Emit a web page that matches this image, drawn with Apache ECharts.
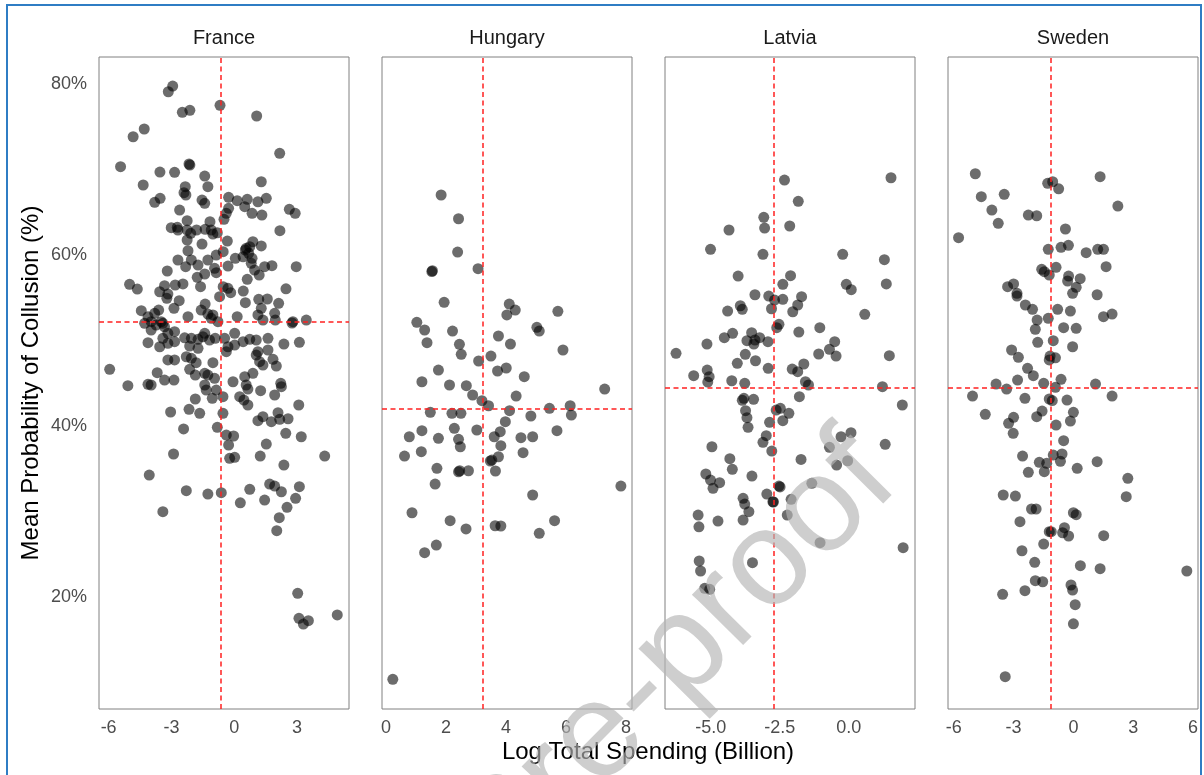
<!DOCTYPE html>
<html>
<head>
<meta charset="utf-8">
<script src="https://cdn.jsdelivr.net/npm/echarts@6/dist/echarts.min.js"></script>
<style>
html,body{margin:0;padding:0;background:#fff;}
#chart{width:1204px;height:775px;}
</style>
</head>
<body>
<div id="chart"></div>
<script>
// ---- DATA ----
const countries = ['France', 'Hungary', 'Latvia', 'Sweden'];

// [log total spending, mean probability of collusion (%)]
const france = [[-2.94,79.8],[-3.15,79.13],[-2.48,76.72],[-2.12,76.96],[-0.68,77.54],[1.07,76.29],[-4.83,73.86],[-4.30,74.77],
[2.17,71.92],[-5.43,70.35],[-3.55,69.73],[-2.85,69.70],[-2.12,70.55],[-2.16,70.67],[-1.41,69.26],[-4.35,68.21],[1.29,68.59],[-2.34,68.01],[-2.40,67.31],[-2.31,67.04],[-1.26,68.01],[-3.80,66.18],[-3.54,66.65],[-1.54,66.45],[-1.41,66.06],[-0.27,66.77],[0.14,66.37],[0.62,66.53],[1.13,66.25],[1.53,66.65],[-2.61,65.28],[2.63,65.36],[2.91,64.89],[0.50,65.67],[0.85,64.89],[1.32,64.69],[-0.27,65.48],[-0.38,64.89],[-0.49,64.19],[-2.25,64.03],[-1.16,63.91],[2.18,62.86],[-3.01,63.21],[-2.72,63.25],[-2.69,62.94],[-2.25,62.94],[-1.80,62.94],[-1.39,63.02],[-1.02,62.47],[-0.81,62.62],[-1.10,62.94],[-2.25,61.77],[-1.54,61.30],[-0.33,61.65],[-2.08,62.55],[0.89,61.57],[0.57,60.80],[1.29,61.07],[-2.21,60.51],[-0.53,60.40],[-0.86,60.01],[0.53,60.60],[0.69,60.21],[0.85,59.62],[0.74,60.98],[-2.69,59.43],[-2.05,59.43],[-1.73,58.84],[-2.32,58.64],[-1.26,59.43],[-0.94,58.45],[-0.86,57.94],[-0.30,58.72],[0.05,59.62],[0.42,59.81],[0.81,59.04],[0.97,58.25],[1.19,57.67],[1.45,58.64],[1.80,58.76],[2.96,58.64],[-3.20,58.14],[-1.41,57.79],[-1.77,57.40],[-5.00,56.58],[-4.63,56.03],[-3.33,56.42],[-2.82,56.50],[-2.45,56.62],[-3.56,55.71],[-3.17,55.44],[-3.22,54.94],[-1.61,56.30],[-0.53,56.30],[-0.30,56.11],[-0.17,55.60],[-0.70,55.13],[0.62,57.17],[0.43,55.79],[2.47,56.06],[-2.63,54.66],[-2.88,53.77],[-1.39,54.27],[-1.58,53.57],[0.53,54.43],[1.17,54.82],[1.58,54.86],[1.29,53.77],[2.12,54.35],[-4.44,53.49],[-4.12,52.79],[-3.80,53.18],[-3.61,53.57],[-2.21,52.79],[-1.26,53.10],[-1.02,52.99],[-0.78,52.20],[-1.10,52.60],[0.14,52.79],[1.13,52.99],[1.37,52.40],[1.93,53.18],[1.96,52.40],[2.80,52.20],[2.76,52.05],[3.44,52.40],[-3.97,52.20],[-3.49,52.20],[-3.33,51.61],
[-4.28,52.01],[-3.73,51.81],[-3.41,52.01],[-3.97,51.23],[-3.17,50.84],[-2.85,51.03],[-4.12,49.74],[-3.56,49.27],[-3.41,50.26],[-3.17,49.67],[-2.85,49.86],[-2.37,50.32],[-2.05,50.26],[-2.13,49.35],[-1.73,49.09],[-1.73,50.14],[-1.50,50.44],[-1.41,50.84],[-1.18,50.06],[-0.91,50.26],[-0.46,50.26],[-0.30,49.27],[-0.38,48.69],[0.02,50.84],[0.02,49.47],[0.42,49.86],[0.74,50.14],[1.05,50.06],[1.61,50.26],[1.61,48.89],[1.13,48.69],[1.05,48.30],[1.21,47.52],[1.37,47.13],[1.85,47.80],[2.01,47.01],[2.37,49.59],[3.11,49.79],[-3.17,47.72],[-2.85,47.72],[-2.29,48.10],[-2.05,47.91],[-1.82,47.40],[-1.02,47.40],[-5.95,46.63],[-3.68,46.23],[-3.33,45.37],[-2.88,45.37],[-2.13,46.63],[-1.86,45.96],[-1.41,46.16],[-1.26,45.96],[-0.94,45.57],[-5.08,44.71],[-4.12,44.87],[-3.97,44.79],[-1.41,44.79],[-1.34,44.20],[-0.86,44.20],[-1.05,43.23],[-0.54,43.42],[-0.06,45.17],[0.50,45.76],[0.89,46.16],[0.57,44.79],[0.65,44.32],[0.26,43.42],[0.46,43.03],[0.65,42.45],[1.26,44.12],[1.93,43.62],[2.22,44.99],[2.25,44.59],[-1.86,43.15],[-3.04,41.63],[-2.16,41.94],[-1.65,41.47],[-0.54,41.47],[3.08,42.45],[1.13,40.61],[1.37,41.08],[1.77,40.49],[2.09,41.54],[2.17,40.77],[2.57,40.84],[-2.42,39.64],[-0.81,39.83],[-0.38,38.93],[-0.03,38.82],[2.46,39.13],[3.20,38.73],[-0.27,37.76],[1.53,37.88],[-2.90,36.71],[-0.22,36.20],[0.02,36.32],[1.24,36.47],[4.32,36.47],[2.37,35.42],[-4.06,34.25],[-2.29,32.41],[-1.26,32.02],[-0.62,32.18],[0.74,32.57],[1.69,33.19],[1.93,32.96],[2.25,32.29],[3.11,32.88],[2.93,31.52],[0.29,31.00],[1.45,31.32],[2.52,30.47],[-3.41,29.95],[2.15,29.25],[2.03,27.73],[3.03,20.40],[3.09,17.47],[3.30,16.80],[3.54,17.19],[4.92,17.86]];

const hungary = [[1.84,67.04],[2.42,64.26],[2.39,60.36],[1.55,58.17],[1.53,58.08],[3.07,58.41],[1.94,54.47],[4.11,54.27],[4.31,53.57],[4.03,52.99],[5.73,53.42],[1.03,52.13],[1.29,51.23],[2.22,51.11],[5.03,51.54],[5.11,51.11],[1.37,49.74],[2.45,49.55],[2.51,48.38],[3.75,50.53],[4.15,49.59],[5.90,48.89],[3.50,48.18],[3.09,47.60],[1.75,46.54],[3.72,46.43],[4.01,46.78],[4.61,45.76],[1.20,45.17],[2.12,44.79],[2.68,44.71],[7.29,44.32],[2.89,43.62],[3.20,42.95],[3.42,42.36],[4.34,43.50],[1.48,41.59],[2.20,41.47],[2.50,41.47],[4.12,41.78],[3.98,40.49],[4.83,41.16],[5.45,42.06],[6.14,42.36],[6.18,41.27],[0.78,38.73],[1.20,39.44],[1.75,38.55],[2.28,39.72],[2.42,38.43],[2.48,37.56],[3.03,39.52],[3.81,39.32],[3.61,38.73],[3.83,37.68],[3.75,36.39],[4.50,38.62],[4.89,38.73],[5.70,39.44],[0.62,36.47],[1.18,36.98],[4.57,36.86],[3.48,35.89],[3.53,36.00],[1.70,35.03],[2.42,34.63],[2.46,34.75],[2.75,34.75],[3.65,34.72],[1.64,33.19],[4.89,31.91],[7.83,32.96],[0.87,29.83],[2.14,28.90],[2.67,27.93],[3.64,28.31],[3.83,28.28],[5.62,28.90],[5.11,27.42],[1.68,26.05],[1.29,25.15],[0.23,10.33]];

const latvia = [[-2.33,68.79],[1.53,69.06],[-1.83,66.30],[-3.08,64.43],[-3.05,63.17],[-2.14,63.41],[-4.34,62.94],[-5.01,60.68],[-3.11,60.09],[-0.22,60.09],[1.29,59.46],[-4.01,57.55],[-2.11,57.59],[-2.39,56.58],[-0.09,56.58],[0.09,55.95],[1.36,56.62],[-3.40,55.36],[-2.90,55.21],[-2.69,54.74],[-2.39,54.82],[-1.71,55.13],[-1.85,54.16],[-2.03,53.37],[-3.93,54.07],[-3.86,53.65],[-4.39,53.45],[-2.80,53.72],[0.58,53.07],[-2.53,51.90],[-2.61,51.50],[-1.81,50.99],[-1.05,51.50],[-4.21,50.84],[-4.51,50.33],[-3.52,50.91],[-3.69,49.98],[-3.40,50.06],[-3.23,50.33],[-3.44,49.59],[-2.93,49.86],[-5.14,49.59],[-0.51,49.86],[-0.70,48.97],[-0.46,48.18],[-1.09,48.42],[-6.26,48.50],[-3.75,48.38],[1.47,48.22],[-4.04,47.33],[-3.38,47.63],[-2.92,46.74],[-1.63,47.25],[-2.05,46.66],[-1.85,46.35],[-5.62,45.88],[-5.13,46.54],[-5.06,45.76],[-5.11,45.14],[-4.24,45.29],[-3.77,44.99],[-1.57,45.17],[-1.46,44.79],[1.22,44.59],[-3.80,43.23],[-3.45,43.11],[-1.79,43.42],[1.94,42.45],[-3.86,43.00],[-3.74,41.78],[-3.69,40.97],[-3.65,39.83],[-2.63,41.86],[-2.48,42.06],[-2.17,41.47],[-2.39,40.61],[-2.87,40.42],[-2.99,38.85],[-3.11,38.08],[-2.79,37.06],[-0.28,38.73],[0.08,39.20],[1.32,37.84],[-0.70,37.49],[-4.96,37.56],[-4.31,36.16],[-4.22,34.92],[-1.73,36.08],[-0.44,35.42],[-0.04,35.92],[-5.18,34.37],[-5.01,33.66],[-4.92,32.69],[-4.68,33.35],[-3.51,34.13],[-2.53,32.96],[-2.49,32.85],[-1.34,33.28],[-2.97,32.02],[-2.75,31.12],[-2.73,31.09],[-2.09,31.40],[-3.83,31.52],[-3.77,30.85],[-3.62,29.95],[-3.83,28.98],[-5.46,29.56],[-5.43,28.19],[-4.74,28.86],[-2.23,29.56],[-1.04,26.32],[1.97,25.74],[-5.42,24.18],[-5.37,23.01],[-3.49,23.98],[-5.22,20.98],[-5.04,20.86]];

const sweden = [[-4.92,69.53],[1.34,69.18],[-1.29,68.41],[-1.04,68.59],[-0.74,67.77],[-4.62,66.84],[-3.47,67.12],[2.23,65.75],[-4.09,65.28],[-3.77,63.72],[-2.26,64.69],[-1.84,64.61],[-5.76,62.04],[-0.40,63.06],[-1.26,60.68],[-0.62,60.91],[-0.25,61.15],[0.64,60.28],[1.22,60.68],[1.51,60.68],[1.64,58.64],[-1.59,58.34],[-1.46,58.06],[-0.87,58.57],[-1.21,57.67],[-0.24,57.55],[-0.29,56.97],[0.34,57.24],[0.14,56.23],[-0.04,55.53],[1.19,55.36],[-3.30,56.30],[-3.00,56.62],[-2.83,55.53],[-2.83,55.21],[-2.41,54.16],[-2.05,53.65],[-0.79,53.65],[-0.15,53.45],[1.51,52.79],[1.94,53.10],[-1.82,52.40],[-1.26,52.60],[-1.91,51.31],[-0.49,51.50],[0.14,51.43],[-1.79,49.79],[-1.01,49.98],[-3.10,48.89],[-2.76,48.03],[-0.04,49.27],[-1.17,48.18],[-0.90,47.98],[-1.21,47.72],[-2.30,46.74],[-2.01,45.88],[-2.80,45.37],[-3.88,44.90],[-1.49,44.99],[-0.62,45.46],[1.11,44.90],[-3.35,44.32],[-0.90,44.52],[-5.06,43.50],[-2.43,43.23],[-1.21,43.15],[-1.06,42.97],[-0.32,43.03],[1.94,43.50],[-4.42,41.36],[-3.00,41.01],[-3.25,40.30],[-3.02,39.13],[-1.84,41.08],[-1.57,41.74],[-0.87,40.10],[0.00,41.59],[-0.15,40.57],[-0.49,38.27],[-2.55,36.47],[-1.71,35.74],[-1.34,35.62],[-1.46,34.64],[-1.01,36.59],[-0.57,36.71],[-0.65,35.85],[-2.26,34.56],[0.19,35.03],[1.19,35.81],[2.73,33.86],[2.65,31.71],[-3.52,31.91],[-2.91,31.79],[-2.10,30.27],[-1.87,30.27],[0.00,29.83],[0.14,29.60],[-2.68,28.78],[-1.21,27.61],[-1.11,27.61],[-0.45,28.08],[-0.54,27.49],[-0.24,27.11],[1.52,27.14],[-1.49,26.17],[-2.58,25.38],[-1.94,24.03],[0.35,23.63],[1.34,23.28],[5.69,23.01],[-1.91,21.87],[-1.54,21.75],[-0.12,21.37],[-0.04,20.78],[-3.55,20.28],[-2.43,20.70],[0.09,19.06],[0.00,16.83],[-3.42,10.63]];

const meanX = [-0.65, 3.23, -2.71, -1.16];
const meanY = [52.2, 42.06, 44.5, 44.5];

const xTicks = [[-6, -3, 0, 3], [0, 2, 4, 6, 8], [-5, -2.5, 0], [-6, -3, 0, 3, 6]];
const yTicks = [20, 40, 60, 80];
const xRange = [[-6.46, 5.48], [-0.13, 8.2], [-6.66, 2.40], [-6.29, 6.25]];
const yRange = [6.85, 83.2];

// ---- CHART ----
const allData = [france, hungary, latvia, sweden];
const FONT = '"Liberation Sans", Arial, sans-serif';
const lefts = [99, 382, 665, 948];
const W = 250, TOP = 57, H = 652;

const chart = echarts.init(document.getElementById('chart'), null, {renderer: 'canvas'});

const grids = [], xAxes = [], yAxes = [], series = [];
countries.forEach((c, i) => {
  grids.push({left: lefts[i], top: TOP, width: W, height: H, show: true,
    borderColor: '#808080', borderWidth: 1, backgroundColor: 'transparent'});
  xAxes.push({
    type: 'value', gridIndex: i, min: xRange[i][0], max: xRange[i][1],
    axisLine: {show: false}, axisTick: {show: false}, splitLine: {show: false},
    axisLabel: {
      customValues: xTicks[i], color: '#4d4d4d', fontSize: 18, fontFamily: FONT, margin: 10,
      formatter: v => (i === 2 ? v.toFixed(1) : String(v))
    }
  });
  yAxes.push({
    type: 'value', gridIndex: i, min: yRange[0], max: yRange[1],
    axisLine: {show: false}, axisTick: {show: false}, splitLine: {show: false},
    axisLabel: {
      show: i === 0, customValues: yTicks, color: '#4d4d4d', fontSize: 18, fontFamily: FONT, margin: 12,
      formatter: v => v + '%'
    }
  });
  series.push({
    type: 'scatter', xAxisIndex: i, yAxisIndex: i, data: allData[i],
    symbolSize: 11,
    itemStyle: {color: 'rgba(0,0,0,0.72)'},
    silent: true,
    markLine: {
      silent: true, symbol: 'none', animation: false,
      label: {show: false},
      lineStyle: {color: '#ff2020', type: [5, 3.5], width: 1.5},
      data: [{xAxis: meanX[i]}, {yAxis: meanY[i]}]
    }
  });
});

const titleGraphics = countries.map((c, i) => ({
  type: 'text', x: lefts[i] + W / 2, y: 38, z: 10,
  style: {text: c, fontSize: 20, fontFamily: FONT, fill: '#1a1a1a', align: 'center', verticalAlign: 'middle'}
}));

const otherGraphics = [
  {type: 'text', x: 648, y: 752, z: 10,
   style: {text: 'Log Total Spending (Billion)', fontSize: 24, fontFamily: FONT, fill: '#000', align: 'center', verticalAlign: 'middle'}},
  {type: 'text', x: 31, y: 383, rotation: Math.PI / 2, z: 10,
   style: {text: 'Mean Probability of Collusion (%)', fontSize: 24, fontFamily: FONT, fill: '#000', align: 'center', verticalAlign: 'middle'}},
  {type: 'text', x: 505, y: 832, rotation: 0.79, z: 100,
   style: {text: 'Journal Pre-proof', fontSize: 136, fontFamily: FONT, fill: 'rgba(180,180,180,0.65)', align: 'center', verticalAlign: 'middle'}},
  {type: 'rect', z: 100, shape: {x: 7, y: 5, width: 1194, height: 820},
   style: {fill: 'none', stroke: '#2f7dc4', lineWidth: 2}}
];

chart.setOption({
  animation: false,
  backgroundColor: '#ffffff',
  grid: grids, xAxis: xAxes, yAxis: yAxes, series: series,
  graphic: titleGraphics.concat(otherGraphics)
});
</script>
</body>
</html>
